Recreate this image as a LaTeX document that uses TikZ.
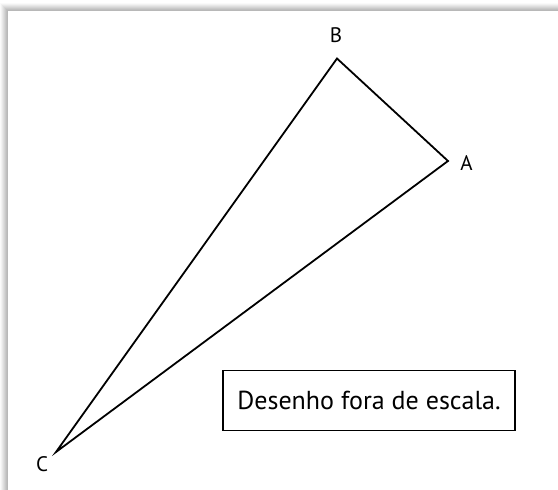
\documentclass[tikz,border=0pt]{standalone}
\usepackage{fontspec}
\setmainfont{PT Sans}
\begin{document}
\begin{tikzpicture}[x=1pt,y=-1pt,
  side/.style={line width=1.8pt,line join=miter},
  lbl/.style={font=\fontsize{21}{24}\selectfont,inner sep=0pt},
  notebox/.style={draw,line width=1.2pt,minimum width=292pt,minimum height=59.5pt,inner sep=0pt,font=\fontsize{26}{30}\selectfont}]
\useasboundingbox (0,0) rectangle (558,490);
\fill[white] (0,0) rectangle (558,490);
% shadow
\foreach \i/\g in {0/2,1/5,2/9,3/13,4/17,5/21,6/25,7/28}{
  \fill[black!\g] (\i,3+\i) rectangle (558,490);
}
\fill[white] (8,11) rectangle (558,490);
% vertices
\coordinate (A) at (448,161);
\coordinate (B) at (337,58.5);
\coordinate (C) at (56,452);
\draw[side] (A) -- (B) -- (C) -- cycle;
\node[lbl] (lA) at (466.5,163) {A};
\node[lbl] (lB) at (336,35.5) {B};
\node[lbl] (lC) at (42,464.5) {C};
\node[notebox] (note) at (369,400.4) {Desenho fora de escala.};
\end{tikzpicture}
\end{document}
